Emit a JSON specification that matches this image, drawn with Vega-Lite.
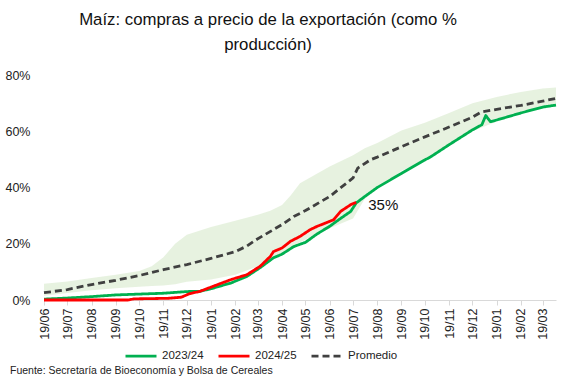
{
  "$schema": "https://vega.github.io/schema/vega-lite/v6.json",
  "width": 512,
  "height": 225,
  "autosize": {"type": "none"},
  "padding": {"left": 44, "top": 75, "right": 12, "bottom": 79},
  "background": "white",
  "config": {
    "view": {"stroke": null},
    "font": "Liberation Sans, sans-serif"
  },
  "title": {
    "text": ["Maíz: compras a precio de la exportación (como %", "producción)"],
    "font": "Liberation Sans, sans-serif",
    "fontSize": 16.8,
    "fontWeight": "normal",
    "color": "#111111",
    "lineHeight": 25,
    "anchor": "middle",
    "frame": "group",
    "dx": -32,
    "offset": 15
  },
  "datasets": {
    "banda": [
      {"fecha": "2023-06-19", "min": 0.015, "max": 0.058},
      {"fecha": "2023-07-19", "min": 0.025, "max": 0.066},
      {"fecha": "2023-08-19", "min": 0.035, "max": 0.078},
      {"fecha": "2023-09-19", "min": 0.042, "max": 0.09},
      {"fecha": "2023-10-19", "min": 0.047, "max": 0.103},
      {"fecha": "2023-11-04", "min": 0.05, "max": 0.12},
      {"fecha": "2023-11-19", "min": 0.052, "max": 0.152},
      {"fecha": "2023-12-04", "min": 0.056, "max": 0.2},
      {"fecha": "2023-12-19", "min": 0.065, "max": 0.232},
      {"fecha": "2024-01-19", "min": 0.073, "max": 0.26},
      {"fecha": "2024-02-19", "min": 0.09, "max": 0.282},
      {"fecha": "2024-03-19", "min": 0.12, "max": 0.303},
      {"fecha": "2024-04-04", "min": 0.144, "max": 0.317},
      {"fecha": "2024-04-19", "min": 0.16, "max": 0.338},
      {"fecha": "2024-04-30", "min": 0.18, "max": 0.372},
      {"fecha": "2024-05-12", "min": 0.205, "max": 0.415},
      {"fecha": "2024-06-19", "min": 0.255, "max": 0.475},
      {"fecha": "2024-07-19", "min": 0.29, "max": 0.515},
      {"fecha": "2024-08-03", "min": 0.36, "max": 0.54},
      {"fecha": "2024-08-19", "min": 0.395, "max": 0.558},
      {"fecha": "2024-09-19", "min": 0.46, "max": 0.603},
      {"fecha": "2024-10-19", "min": 0.495, "max": 0.63},
      {"fecha": "2024-11-19", "min": 0.548, "max": 0.665},
      {"fecha": "2024-12-19", "min": 0.6, "max": 0.7},
      {"fecha": "2025-01-19", "min": 0.635, "max": 0.722},
      {"fecha": "2025-02-19", "min": 0.662, "max": 0.74},
      {"fecha": "2025-03-19", "min": 0.683, "max": 0.752},
      {"fecha": "2025-04-05", "min": 0.69, "max": 0.756}
    ],
    "series": [
      {"serie": "Promedio", "fecha": "2023-06-19", "valor": 0.026},
      {"serie": "Promedio", "fecha": "2023-07-19", "valor": 0.037},
      {"serie": "Promedio", "fecha": "2023-08-19", "valor": 0.055},
      {"serie": "Promedio", "fecha": "2023-09-19", "valor": 0.07},
      {"serie": "Promedio", "fecha": "2023-10-19", "valor": 0.087},
      {"serie": "Promedio", "fecha": "2023-11-19", "valor": 0.108},
      {"serie": "Promedio", "fecha": "2023-12-19", "valor": 0.126},
      {"serie": "Promedio", "fecha": "2024-01-19", "valor": 0.148},
      {"serie": "Promedio", "fecha": "2024-02-19", "valor": 0.172},
      {"serie": "Promedio", "fecha": "2024-03-05", "valor": 0.192},
      {"serie": "Promedio", "fecha": "2024-03-19", "valor": 0.218},
      {"serie": "Promedio", "fecha": "2024-04-19", "valor": 0.268},
      {"serie": "Promedio", "fecha": "2024-05-04", "valor": 0.297},
      {"serie": "Promedio", "fecha": "2024-05-19", "valor": 0.318},
      {"serie": "Promedio", "fecha": "2024-06-19", "valor": 0.368},
      {"serie": "Promedio", "fecha": "2024-07-19", "valor": 0.434},
      {"serie": "Promedio", "fecha": "2024-07-25", "valor": 0.469},
      {"serie": "Promedio", "fecha": "2024-08-10", "valor": 0.498},
      {"serie": "Promedio", "fecha": "2024-08-19", "valor": 0.508},
      {"serie": "Promedio", "fecha": "2024-09-19", "valor": 0.545},
      {"serie": "Promedio", "fecha": "2024-10-19", "valor": 0.58},
      {"serie": "Promedio", "fecha": "2024-11-19", "valor": 0.615},
      {"serie": "Promedio", "fecha": "2024-12-19", "valor": 0.65},
      {"serie": "Promedio", "fecha": "2024-12-30", "valor": 0.668},
      {"serie": "Promedio", "fecha": "2025-01-19", "valor": 0.678},
      {"serie": "Promedio", "fecha": "2025-02-19", "valor": 0.692},
      {"serie": "Promedio", "fecha": "2025-03-19", "valor": 0.707},
      {"serie": "Promedio", "fecha": "2025-04-05", "valor": 0.717},
      {"serie": "2023/24", "fecha": "2023-06-19", "valor": 0.003},
      {"serie": "2023/24", "fecha": "2023-07-19", "valor": 0.007},
      {"serie": "2023/24", "fecha": "2023-08-19", "valor": 0.012},
      {"serie": "2023/24", "fecha": "2023-09-19", "valor": 0.018},
      {"serie": "2023/24", "fecha": "2023-10-19", "valor": 0.021},
      {"serie": "2023/24", "fecha": "2023-11-19", "valor": 0.024},
      {"serie": "2023/24", "fecha": "2023-12-19", "valor": 0.03},
      {"serie": "2023/24", "fecha": "2024-01-05", "valor": 0.031},
      {"serie": "2023/24", "fecha": "2024-01-19", "valor": 0.04},
      {"serie": "2023/24", "fecha": "2024-02-14", "valor": 0.061},
      {"serie": "2023/24", "fecha": "2024-03-05", "valor": 0.084},
      {"serie": "2023/24", "fecha": "2024-03-22", "valor": 0.115},
      {"serie": "2023/24", "fecha": "2024-04-08", "valor": 0.15},
      {"serie": "2023/24", "fecha": "2024-04-19", "valor": 0.163},
      {"serie": "2023/24", "fecha": "2024-05-04", "valor": 0.19},
      {"serie": "2023/24", "fecha": "2024-05-19", "valor": 0.205},
      {"serie": "2023/24", "fecha": "2024-06-03", "valor": 0.235},
      {"serie": "2023/24", "fecha": "2024-06-19", "valor": 0.262},
      {"serie": "2023/24", "fecha": "2024-07-03", "valor": 0.29},
      {"serie": "2023/24", "fecha": "2024-07-16", "valor": 0.315},
      {"serie": "2023/24", "fecha": "2024-07-23", "valor": 0.345},
      {"serie": "2023/24", "fecha": "2024-08-03", "valor": 0.368},
      {"serie": "2023/24", "fecha": "2024-08-19", "valor": 0.4},
      {"serie": "2023/24", "fecha": "2024-09-19", "valor": 0.45},
      {"serie": "2023/24", "fecha": "2024-10-19", "valor": 0.498},
      {"serie": "2023/24", "fecha": "2024-10-27", "valor": 0.51},
      {"serie": "2023/24", "fecha": "2024-11-19", "valor": 0.552},
      {"serie": "2023/24", "fecha": "2024-12-19", "valor": 0.605},
      {"serie": "2023/24", "fecha": "2024-12-31", "valor": 0.623},
      {"serie": "2023/24", "fecha": "2025-01-05", "valor": 0.656},
      {"serie": "2023/24", "fecha": "2025-01-11", "valor": 0.634},
      {"serie": "2023/24", "fecha": "2025-01-19", "valor": 0.64},
      {"serie": "2023/24", "fecha": "2025-02-19", "valor": 0.665},
      {"serie": "2023/24", "fecha": "2025-03-19", "valor": 0.686},
      {"serie": "2023/24", "fecha": "2025-04-05", "valor": 0.693},
      {"serie": "2024/25", "fecha": "2023-06-19", "valor": 0.0},
      {"serie": "2024/25", "fecha": "2023-10-05", "valor": 0.0},
      {"serie": "2024/25", "fecha": "2023-10-12", "valor": 0.004},
      {"serie": "2024/25", "fecha": "2023-11-25", "valor": 0.006},
      {"serie": "2024/25", "fecha": "2023-12-12", "valor": 0.01},
      {"serie": "2024/25", "fecha": "2023-12-22", "valor": 0.022},
      {"serie": "2024/25", "fecha": "2024-01-05", "valor": 0.031},
      {"serie": "2024/25", "fecha": "2024-01-22", "valor": 0.049},
      {"serie": "2024/25", "fecha": "2024-02-14", "valor": 0.073},
      {"serie": "2024/25", "fecha": "2024-03-05", "valor": 0.09},
      {"serie": "2024/25", "fecha": "2024-03-22", "valor": 0.12},
      {"serie": "2024/25", "fecha": "2024-04-04", "valor": 0.155},
      {"serie": "2024/25", "fecha": "2024-04-08", "valor": 0.172},
      {"serie": "2024/25", "fecha": "2024-04-19", "valor": 0.185},
      {"serie": "2024/25", "fecha": "2024-04-30", "valor": 0.209},
      {"serie": "2024/25", "fecha": "2024-05-12", "valor": 0.226},
      {"serie": "2024/25", "fecha": "2024-05-25", "valor": 0.25},
      {"serie": "2024/25", "fecha": "2024-06-03", "valor": 0.262},
      {"serie": "2024/25", "fecha": "2024-06-24", "valor": 0.285},
      {"serie": "2024/25", "fecha": "2024-07-03", "valor": 0.315},
      {"serie": "2024/25", "fecha": "2024-07-16", "valor": 0.339},
      {"serie": "2024/25", "fecha": "2024-07-23", "valor": 0.347}
    ],
    "etiqueta": [
      {"fecha": "2024-07-23", "valor": 0.347, "texto": "35%"}
    ]
  },
  "encoding": {
    "x": {
      "field": "fecha",
      "type": "temporal",
      "scale": {
        "type": "utc",
        "domain": [
          {"year": 2023, "month": 6, "date": 19, "utc": true},
          {"year": 2025, "month": 4, "date": 5, "utc": true}
        ]
      },
      "axis": {
        "title": null,
        "grid": false,
        "format": "%d/%m",
        "labelAngle": -90,
        "labelFont": "Liberation Sans, sans-serif",
        "labelFontSize": 12.5,
        "labelColor": "#222222",
        "labelPadding": 3,
        "tickSize": 5,
        "tickColor": "#d9d9d9",
        "domainColor": "#d9d9d9",
        "labelOverlap": false,
        "labelBound": false,
        "labelFlush": false,
        "values": [
          {"year": 2023, "month": 6, "date": 19, "utc": true},
          {"year": 2023, "month": 7, "date": 19, "utc": true},
          {"year": 2023, "month": 8, "date": 19, "utc": true},
          {"year": 2023, "month": 9, "date": 19, "utc": true},
          {"year": 2023, "month": 10, "date": 19, "utc": true},
          {"year": 2023, "month": 11, "date": 19, "utc": true},
          {"year": 2023, "month": 12, "date": 19, "utc": true},
          {"year": 2024, "month": 1, "date": 19, "utc": true},
          {"year": 2024, "month": 2, "date": 19, "utc": true},
          {"year": 2024, "month": 3, "date": 19, "utc": true},
          {"year": 2024, "month": 4, "date": 19, "utc": true},
          {"year": 2024, "month": 5, "date": 19, "utc": true},
          {"year": 2024, "month": 6, "date": 19, "utc": true},
          {"year": 2024, "month": 7, "date": 19, "utc": true},
          {"year": 2024, "month": 8, "date": 19, "utc": true},
          {"year": 2024, "month": 9, "date": 19, "utc": true},
          {"year": 2024, "month": 10, "date": 19, "utc": true},
          {"year": 2024, "month": 11, "date": 19, "utc": true},
          {"year": 2024, "month": 12, "date": 19, "utc": true},
          {"year": 2025, "month": 1, "date": 19, "utc": true},
          {"year": 2025, "month": 2, "date": 19, "utc": true},
          {"year": 2025, "month": 3, "date": 19, "utc": true}
        ]
      }
    }
  },
  "layer": [
    {
      "data": {"name": "banda"},
      "mark": {"type": "area", "color": "#a9d18e", "opacity": 0.28},
      "encoding": {
        "y": {
          "field": "min",
          "type": "quantitative",
          "scale": {"domain": [0, 0.8], "nice": false},
          "axis": {
            "title": null,
            "grid": false,
            "domain": false,
            "ticks": false,
            "format": ".0%",
            "values": [0, 0.1, 0.2, 0.3, 0.4, 0.5, 0.6, 0.7, 0.8],
            "labelFont": "Liberation Sans, sans-serif",
            "labelFontSize": 12.5,
            "labelColor": "#222222",
            "labelPadding": 14
          }
        },
        "y2": {"field": "max"}
      }
    },
    {
      "data": {"name": "series"},
      "mark": {"type": "line", "strokeCap": "butt", "strokeJoin": "round"},
      "encoding": {
        "y": {"field": "valor", "type": "quantitative"},
        "color": {
          "field": "serie",
          "type": "nominal",
          "scale": {"domain": ["2023/24", "2024/25", "Promedio"], "range": ["#00b050", "#ff0000", "#404040"]},
          "legend": {
            "title": null,
            "orient": "none",
            "legendX": 80,
            "legendY": 264,
            "direction": "horizontal",
            "symbolType": "stroke",
            "symbolSize": 961,
            "symbolStrokeWidth": 3.5,
            "labelFont": "Liberation Sans, sans-serif",
            "labelFontSize": 11.5,
            "labelColor": "#222222",
            "labelOffset": 4,
            "columnPadding": 8,
            "padding": 0
          }
        },
        "strokeDash": {
          "field": "serie",
          "type": "nominal",
          "scale": {"domain": ["2023/24", "2024/25", "Promedio"], "range": [[1, 0], [1, 0], [7, 4]]},
          "legend": {
            "title": null,
            "orient": "none",
            "legendX": 80,
            "legendY": 264,
            "direction": "horizontal",
            "symbolType": "stroke",
            "symbolSize": 961,
            "symbolStrokeWidth": 3.5,
            "labelFont": "Liberation Sans, sans-serif",
            "labelFontSize": 11.5,
            "labelColor": "#222222",
            "labelOffset": 4,
            "columnPadding": 8,
            "padding": 0
          }
        },
        "strokeWidth": {
          "field": "serie",
          "type": "nominal",
          "scale": {"domain": ["2023/24", "2024/25", "Promedio"], "range": [2.8, 2.8, 3.4]},
          "legend": null
        }
      }
    },
    {
      "data": {"name": "etiqueta"},
      "mark": {"type": "text", "align": "left", "baseline": "middle", "dx": 12, "dy": 3, "fontSize": 15, "font": "Liberation Sans, sans-serif", "color": "#111111"},
      "encoding": {
        "y": {"field": "valor", "type": "quantitative"},
        "text": {"field": "texto"}
      }
    },
    {
      "data": {"values": [{"fecha": "2023-06-19", "base": 0, "fuente": "Fuente: Secretaría de Bioeconomía y Bolsa de Cereales"}]},
      "mark": {"type": "text", "align": "left", "baseline": "middle", "fontSize": 10.5, "font": "Liberation Sans, sans-serif", "color": "#222222", "dx": -34, "dy": 71},
      "encoding": {
        "y": {"field": "base", "type": "quantitative"},
        "text": {"field": "fuente"}
      }
    }
  ]
}
